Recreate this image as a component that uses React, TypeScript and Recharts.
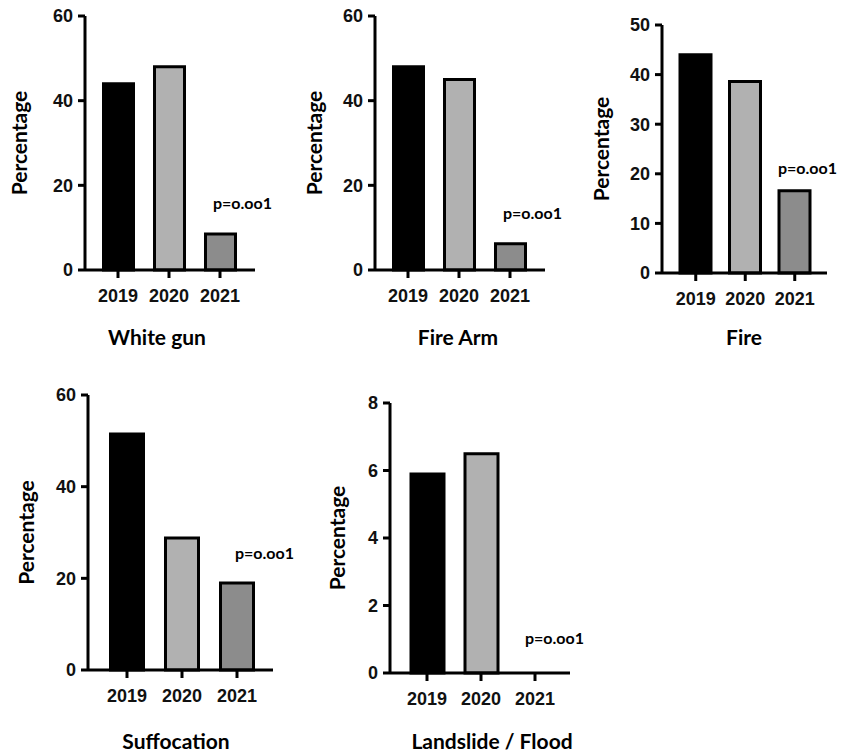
import { Bar, BarChart, Cell, XAxis, YAxis } from "recharts";

const years = ["2019", "2020", "2021"];
const whiteGun = [44, 48, 8.5];
const fireArm = [48, 45, 6.2];
const fire = [44, 38.6, 16.6];
const suffocation = [51.5, 28.8, 19];
const landslide = [5.9, 6.5, 0];

const ticks60 = [0, 20, 40, 60];
const ticks50 = [0, 10, 20, 30, 40, 50];
const ticks8 = [0, 2, 4, 6, 8];

const fills = ["#000000", "#b1b1b1", "#8c8c8c"];
const pLabel = "p=o.oo1";

const tickFont = {
  fontFamily: "'Liberation Sans', Arial, sans-serif",
  fontWeight: 700,
  fontSize: 18,
  fill: "#111",
};
const labelFont = "Lato, 'Open Sans', sans-serif";

interface Panel {
  title: string;
  values: number[];
  max: number;
  ticks: number[];
  box: { x: number; y: number; w: number; h: number };
  top: number;
  right: number;
  yWidth: number;
  padL: number;
  padR: number;
  barSize: number;
  labelOffset: number;
  titleAt: [number, number];
  pAt: [number, number];
}

const AXIS_H = 50;

const panels: Panel[] = [
  {
    title: "White gun", values: whiteGun, max: 60, ticks: ticks60,
    box: { x: 0, y: 0, w: 270, h: 270 + AXIS_H }, top: 16, right: 15, yWidth: 85,
    padL: 7.5, padR: 9.5, barSize: 30, labelOffset: 20,
    titleAt: [157, 343], pAt: [213, 203],
  },
  {
    title: "Fire Arm", values: fireArm, max: 60, ticks: ticks60,
    box: { x: 290, y: 0, w: 270, h: 270 + AXIS_H }, top: 16, right: 15, yWidth: 85,
    padL: 7.5, padR: 9.5, barSize: 30, labelOffset: 25,
    titleAt: [458, 343], pAt: [503, 213],
  },
  {
    title: "Fire", values: fire, max: 50, ticks: ticks50,
    box: { x: 580, y: 0, w: 260, h: 273 + AXIS_H }, top: 25, right: 13, yWidth: 82,
    padL: 9, padR: 7.5, barSize: 31, labelOffset: 22,
    titleAt: [744, 343], pAt: [778, 168],
  },
  {
    title: "Suffocation", values: suffocation, max: 60, ticks: ticks60,
    box: { x: 0, y: 380, w: 290, h: 290 + AXIS_H }, top: 15, right: 17, yWidth: 88,
    padL: 11.5, padR: 8.5, barSize: 33, labelOffset: 27,
    titleAt: [176, 747], pAt: [235, 553],
  },
  {
    title: "Landslide / Flood", values: landslide, max: 8, ticks: ticks8,
    box: { x: 320, y: 380, w: 260, h: 293 + AXIS_H }, top: 23, right: 10, yWidth: 70,
    padL: 10, padR: 8, barSize: 33, labelOffset: 18,
    titleAt: [492, 747], pAt: [525, 638],
  },
];

function SmallBar({ p }: { p: Panel }) {
  const data = years.map((year, i) => ({ year, value: p.values[i] }));
  return (
    <div style={{ position: "absolute", left: p.box.x, top: p.box.y }}>
      <BarChart
        width={p.box.w}
        height={p.box.h}
        data={data}
        margin={{ top: p.top, right: p.right, left: 0, bottom: 0 }}
      >
        <XAxis
          dataKey="year"
          height={AXIS_H}
          padding={{ left: p.padL, right: p.padR }}
          axisLine={{ stroke: "#000", strokeWidth: 3 }}
          tickLine={{ stroke: "#000", strokeWidth: 3 }}
          tickSize={8}
          tickMargin={11}
          tick={tickFont}
        />
        <YAxis
          width={p.yWidth}
          domain={[0, p.max]}
          ticks={p.ticks}
          interval={0}
          axisLine={{ stroke: "#000", strokeWidth: 3 }}
          tickLine={{ stroke: "#000", strokeWidth: 3 }}
          tickSize={7}
          tickMargin={5}
          tick={tickFont}
          label={{
            value: "Percentage",
            angle: -90,
            position: "insideLeft",
            offset: p.labelOffset,
            style: {
              textAnchor: "middle",
              fontFamily: labelFont,
              fontWeight: 700,
              fontSize: 21,
              fill: "#000",
            },
          }}
        />
        <Bar
          dataKey="value"
          barSize={p.barSize}
          stroke="#000"
          strokeWidth={3}
          isAnimationActive={false}
        >
          {data.map((d, i) => (
            <Cell key={d.year} fill={fills[i]} />
          ))}
        </Bar>
      </BarChart>
    </div>
  );
}

function Caption({ text, x, y, size, center }: { text: string; x: number; y: number; size: number; center?: boolean }) {
  return (
    <div
      style={{
        position: "absolute",
        left: x,
        top: y,
        transform: center ? "translate(-50%, -100%)" : "translateY(-50%)",
        fontFamily: labelFont,
        fontWeight: 700,
        fontSize: size,
        lineHeight: 1,
        whiteSpace: "nowrap",
        color: "#000",
      }}
    >
      {text}
    </div>
  );
}

export default function App() {
  return (
    <div style={{ position: "absolute", left: 0, top: 0, width: 850, height: 756, background: "#fff" }}>
      {panels.map((p) => (
        <SmallBar key={p.title} p={p} />
      ))}
      {panels.map((p) => (
        <Caption key={p.title + "-t"} text={p.title} x={p.titleAt[0]} y={p.titleAt[1] + 4} size={21} center />
      ))}
      {panels.map((p) => (
        <Caption key={p.title + "-p"} text={pLabel} x={p.pAt[0]} y={p.pAt[1]} size={16} />
      ))}
    </div>
  );
}
